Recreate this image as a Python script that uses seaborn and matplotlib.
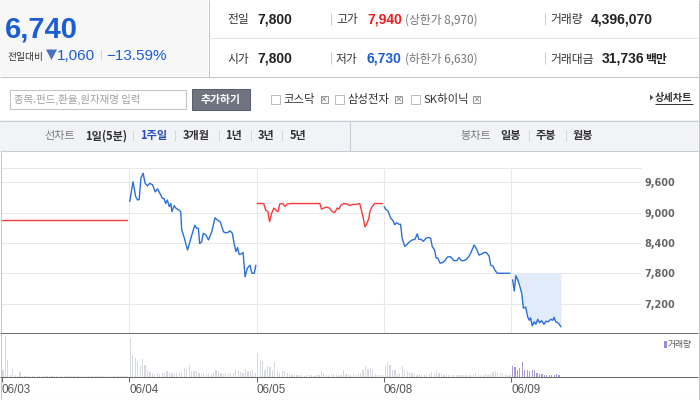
import numpy as np
import pandas as pd
import matplotlib
matplotlib.use("Agg")
import matplotlib.pyplot as plt
from matplotlib.patches import Rectangle, Polygon
from matplotlib.lines import Line2D
import seaborn as sns

# ---------------- data ----------------
day_labels = ["06/03", "06/04", "06/05", "06/08", "06/09"]
session_minutes = 390          # 09:00 - 15:30
prev_close = 7800              # previous close for 06/09
ytick_values = [7200, 7800, 8400, 9000, 9600]

d1_min = [1, 64, 128, 192, 256, 320, 383]
d1_price = [8860, 8860, 8860, 8860, 8860, 8860, 8860]

d2_min = [2, 12, 20, 26, 31, 36, 43, 49, 56, 63, 72, 80, 87, 92, 102, 107, 112, 117, 123, 128,
          131, 138, 143, 153, 158, 161, 168, 179, 189, 201, 207, 212, 216, 222, 227, 235, 243, 253,
          263, 271, 279, 289, 296, 303, 309, 316, 322, 327, 332, 337, 345, 349, 355, 362, 370, 376, 383, 388]
d2_price = [9220, 9610, 9320, 9250, 9260, 9680, 9780, 9580, 9530, 9580, 9550, 9410, 9470, 9410, 9280, 9280, 9180, 9250, 9120, 9180,
            9020, 9140, 9090, 9050, 9020, 8660, 8520, 8260, 8490, 8750, 8690, 8690, 8390, 8420, 8590, 8560, 8460, 8620,
            8900, 8850, 8820, 8620, 8600, 8610, 8640, 8590, 8370, 8230, 8310, 8170, 8190, 8210, 7730, 7900, 7960, 7800, 7800, 7960]

d3_min = [2, 22, 28, 35, 40, 46, 53, 61, 66, 71, 81, 87, 94, 104, 194, 199, 206, 214, 223, 232, 239, 247, 252,
          259, 267, 278, 285, 293, 303, 316, 321, 327, 332, 337, 344, 347, 354, 362, 385]
d3_price = [9180, 9180, 9050, 9020, 8820, 8980, 9090, 9040, 9020, 9170, 9180, 9120, 9170, 9180, 9180, 9070, 9090, 9110,
            9090, 9020, 9000, 9090, 9070, 9150, 9180, 9170, 9140, 9160, 9160, 9180, 9050, 8890, 8720, 8770, 8890, 9020,
            9120, 9180, 9180]

d4_min = [1, 5, 12, 21, 28, 33, 39, 46, 51, 56, 64, 72, 80, 87, 95, 102, 107, 114, 121, 128, 138, 143, 148, 155, 160,
          165, 172, 179, 186, 194, 204, 214, 223, 230, 237, 245, 253, 260, 268, 276, 283, 291, 299, 306, 314, 322, 327,
          334, 340, 347, 386]
d4_price = [9120, 9070, 9040, 8890, 8840, 8760, 8800, 8770, 8770, 8490, 8330, 8380, 8430, 8460, 8470, 8580, 8470, 8470,
            8430, 8490, 8510, 8490, 8330, 8260, 8100, 8100, 8000, 8010, 8040, 8120, 8130, 8050, 8050, 8110, 8050, 8050,
            8080, 8130, 8230, 8360, 8290, 8160, 8180, 8210, 8210, 8140, 7960, 7940, 7860, 7800, 7800]

d5_min = [4, 9, 14, 20, 27, 32, 37, 44, 50, 55, 59, 64, 70, 75, 81, 86, 93, 100, 106, 113, 121, 127, 131, 136, 142, 147, 152]
d5_price = [7670, 7450, 7750, 7670, 7520, 7400, 7110, 7130, 6940, 6870, 6920, 6760, 6840, 6790, 6890, 6820, 6860, 6790,
            6850, 6840, 6890, 6870, 6930, 6840, 6820, 6790, 6740]

vol_bins_per_day = 52
d1_vol = [68, 400, 166, 15, 78, 10, 8, 40, 8, 6, 5, 5, 5, 5, 4, 4, 4, 4, 4, 4, 3, 3, 3, 3, 3, 3,
          3, 3, 3, 3, 3, 3, 3, 3, 3, 3, 3, 3, 3, 3, 3, 3, 3, 3, 3, 3, 3, 3, 3, 3, 3, 3]
d2_vol = [378, 215, 183, 147, 98, 173, 117, 68, 40, 30, 25, 30, 25, 35, 30, 50, 30, 35, 25, 30, 35, 40, 85, 78, 117, 50,
          58, 58, 30, 25, 30, 25, 30, 25, 40, 68, 55, 30, 25, 30, 25, 30, 35, 60, 50, 40, 30, 78, 50, 58, 68, 30]
d3_vol = [230, 166, 150, 60, 98, 88, 68, 140, 50, 35, 58, 55, 30, 20, 15, 12, 12, 10, 10, 8, 10, 12, 10, 8, 10, 12,
          50, 30, 15, 12, 15, 25, 15, 12, 15, 68, 20, 25, 15, 12, 15, 20, 30, 65, 98, 75, 85, 68, 20, 15, 15, 12]
d4_vol = [100, 140, 117, 65, 60, 25, 30, 107, 65, 55, 40, 35, 20, 18, 20, 15, 18, 15, 20, 45, 30, 60, 35, 20, 15, 18,
          15, 15, 12, 15, 12, 15, 12, 12, 15, 12, 15, 30, 15, 12, 15, 25, 15, 20, 40, 55, 45, 35, 35, 25, 12, 10]
d5_vol = [98, 88, 65, 85, 140, 65, 60, 50, 65, 60, 35, 25, 20, 18, 18, 18, 15, 15, 25, 15]

# ---------------- style ----------------
sns.set_theme(style="white")
LAT = ["Liberation Sans", "DejaVu Sans"]
KR = ["Noto Sans CJK KR", "DejaVu Sans"]
plt.rcParams["font.family"] = ["Liberation Sans", "Noto Sans CJK KR", "DejaVu Sans"]

BLUE = "#2b6fd8"
RED = "#f83a3a"
BLUE_TXT = "#1a5dd6"
RED_TXT = "#f21c1c"
GRID = "#e8e8e8"
BORDER = "#c6c6c6"

W, H = 700, 400
fig = plt.figure(figsize=(7, 4), dpi=100)
fig.patch.set_facecolor("white")


def fx(x):
    return x / W


def fy(y):
    return 1 - y / H


def hline(y, x0, x1, color, lw=0.75, z=2):
    fig.add_artist(Line2D([fx(x0), fx(x1)], [fy(y), fy(y)], transform=fig.transFigure,
                          color=color, lw=lw, zorder=z, solid_capstyle="butt"))


def vline(x, y0, y1, color, lw=0.75, z=2):
    fig.add_artist(Line2D([fx(x), fx(x)], [fy(y0), fy(y1)], transform=fig.transFigure,
                          color=color, lw=lw, zorder=z, solid_capstyle="butt"))


def rect(x0, y0, x1, y1, fc, ec="none", lw=0.75, z=1):
    fig.add_artist(Rectangle((fx(x0), fy(y1)), (x1 - x0) / W, (y1 - y0) / H, transform=fig.transFigure,
                             facecolor=fc, edgecolor=ec, lw=lw, zorder=z))


def T(x, y, s, size, color="#333333", weight="normal", family=None, ha="left", va="baseline"):
    fig.text(fx(x), fy(y), s, fontsize=size, color=color, fontweight=weight,
             family=family if family else KR, ha=ha, va=va, zorder=5)


def tri(pts, color):
    fig.add_artist(Polygon([(fx(a), fy(b)) for a, b in pts], closed=True, transform=fig.transFigure,
                           facecolor=color, edgecolor="none", zorder=4))


# ---------------- header ----------------
rect(0, 0, 208, 76, "#f7f7f8")
hline(76.5, 0, 699, BORDER)
vline(208.5, 0, 76.5, BORDER)
hline(37.5, 209, 698, "#e6e6e6")
vline(698.5, 0, 400, BORDER)

T(5, 37.7, "6,740", 21, BLUE_TXT, "bold", LAT)
T(7, 59.8, "전일대비", 7, "#333333")
tri([(46, 49.5), (57, 49.5), (51.5, 60)], "#4672c4")
T(57, 60.5, "1,060", 11, BLUE_TXT, "normal", LAT)
vline(100.5, 50, 60, "#d4d4d4")
T(106.5, 60.5, "\u221213.59%", 11, BLUE_TXT, "normal", LAT)

for ry, lab1, v1, lab2, v2, c2, lim, lab3 in [
        (23.5, "전일", "7,800", "고가", "7,940", RED_TXT, "(상한가 8,970)", "거래량"),
        (62.5, "시가", "7,800", "저가", "6,730", BLUE_TXT, "(하한가 6,630)", "거래대금")]:
    T(227, ry, lab1, 8.5, "#333333")
    T(257, ry, v1, 10, "#222222", "bold", LAT)
    vline(330.5, ry - 11, ry + 1, "#cccccc")
    T(336, ry, lab2, 8.5, "#333333")
    T(367, ry, v2, 10, c2, "bold", LAT)
    T(405, ry, lim, 8.5, "#777777")
    vline(544.5, ry - 11, ry + 1, "#cccccc")
    T(550, ry, lab3, 8.5, "#333333")
T(591, 23.5, "4,396,070", 10, "#222222", "bold", LAT)
T(602, 62.5, "31,736", 10, "#222222", "bold", LAT)
T(645, 62.5, "백만", 8.5, "#222222", "bold")

# ---------------- search row ----------------
rect(9.5, 89.5, 186.5, 108.5, "white", "#c4c4c4")
T(14, 102.5, "종목.펀드,환율,원자재명 입력", 7.5, "#a0a0a0")
rect(191.5, 89.5, 249.5, 109.5, "#6f7480", "#5b5f69")
T(220.5, 103.5, "추가하기", 7.8, "white", "bold", ha="center")
for cbx, lab, xbx in [(270, "코스닥", 320), (334, "삼성전자", 395), (410, "SK하이닉", 473)]:
    rect(cbx + 0.5, 94.5, cbx + 9.5, 103.5, "white", "#bdbdbd")
    T(cbx + 13.5, 102.5, lab, 8.2, "#333333")
    rect(xbx + 0.5, 95.5, xbx + 7.5, 102.5, "white", "#9a9a9a")
    fig.add_artist(Line2D([fx(xbx + 2), fx(xbx + 6)], [fy(97), fy(101)], transform=fig.transFigure,
                          color="#8a8a8a", lw=0.6, zorder=4))
    fig.add_artist(Line2D([fx(xbx + 2), fx(xbx + 6)], [fy(101), fy(97)], transform=fig.transFigure,
                          color="#8a8a8a", lw=0.6, zorder=4))
tri([(650, 94.5), (653.5, 97.5), (650, 100.5)], "#555555")
T(655, 101.5, "상세차트", 7.3, "#333333", "bold")
hline(104, 655, 693, "#333333", lw=0.7)

# ---------------- tab bar ----------------
rect(0, 120.5, 699, 151.5, "#f1f3f6")
hline(120.5, 0, 699, "#c9ccd2")
hline(151.5, 0, 699, "#c9ccd2")
vline(350.5, 121, 151, "#c9ccd2")
TY = 139.5
T(44.5, TY, "선차트", 8, "#7a7a7a")
tabs = [(85, "1일(5분)", "#333333"), (140.5, "1주일", "#2b4db8"), (183, "3개월", "#333333"),
        (225, "1년", "#333333"), (257.5, "3년", "#333333"), (290, "5년", "#333333")]
for x, s, c in tabs:
    T(x, TY, s, 8, c, "bold")
for x in [132.5, 174.5, 218.5, 250.5, 281.5]:
    vline(x, 130, 141, "#d3d6dc")
T(460.5, TY, "봉차트", 8, "#7a7a7a")
for x, s in [(500.5, "일봉"), (536, "주봉"), (573, "월봉")]:
    T(x, TY, s, 8, "#333333", "bold")
for x in [528.5, 565.5]:
    vline(x, 130, 141, "#d3d6dc")

# chart frame
vline(0.5, 152, 400, "#c8c8c8")
hline(399.5, 0, 699, "#c8c8c8")

# ---------------- price panel ----------------
PX0 = 1.7           # pixel of first day start
PPD = 127.4         # pixels per day
AX_L, AX_R = 1, 641
xlim = ((AX_L - PX0) / PPD, (AX_R - PX0) / PPD)

ax = fig.add_axes([fx(AX_L), fy(332.5), (AX_R - AX_L) / W, (332.5 - 168) / H])
day_mins = [d1_min, d2_min, d3_min, d4_min, d5_min]
day_prices = [d1_price, d2_price, d3_price, d4_price, d5_price]
rows = []
for d, (mins, prices) in enumerate(zip(day_mins, day_prices)):
    for m, p in zip(mins, prices):
        rows.append({"t": d + m / session_minutes, "price": p, "day": day_labels[d]})
df = pd.DataFrame(rows)
palette = {day_labels[0]: RED, day_labels[1]: BLUE, day_labels[2]: RED,
           day_labels[3]: BLUE, day_labels[4]: BLUE}

t5 = 4 + np.array(d5_min) / session_minutes
ax.fill_between(t5, d5_price, prev_close, color="#e1ebfa", lw=0, zorder=1)
sns.lineplot(data=df, x="t", y="price", hue="day", palette=palette, estimator=None, sort=False,
             legend=False, ax=ax, linewidth=1.0, zorder=3)

ax.set_xlim(*xlim)
ax.set_ylim(6628, 9883)
ax.set_xlabel("")
ax.set_ylabel("")
ax.set_xticks([])
ax.set_yticks(ytick_values)
ax.set_yticklabels([f"{v:,}" for v in ytick_values])
ax.yaxis.tick_right()
ax.tick_params(axis="y", right=True, left=False, length=0, pad=2.2, labelsize=7, labelcolor="#666666")
for lab in ax.get_yticklabels():
    lab.set_fontweight("bold")
    lab.set_family(["DejaVu Sans"])
ax.grid(axis="y", color=GRID, linewidth=0.75)
ax.set_axisbelow(True)
for d in range(1, len(day_labels)):
    ax.axvline(d, color=GRID, lw=0.75, zorder=0)
for sp in ["left", "right", "bottom"]:
    ax.spines[sp].set_visible(False)
ax.spines["top"].set_color(GRID)
ax.spines["top"].set_linewidth(0.75)
ax.patch.set_alpha(0)

hline(332.5, 0, 698, "#707070")

# ---------------- volume panel ----------------
axv = fig.add_axes([fx(AX_L), fy(376.5), (AX_R - AX_L) / W, (376.5 - 332.5) / H])
bar_w = 1.2 / PPD
for d, vols in enumerate([d1_vol, d2_vol, d3_vol, d4_vol, d5_vol]):
    tv = d + (np.arange(len(vols)) + 0.5) / vol_bins_per_day
    axv.bar(tv, vols, width=bar_w, color="#a999d8" if d == 4 else "#d6d9df", lw=0, zorder=2)
axv.set_xlim(*xlim)
axv.set_ylim(0, 430)
axv.set_yticks([])
axv.set_xticks(range(len(day_labels)))
axv.set_xticklabels(day_labels)
axv.tick_params(axis="x", bottom=True, length=3.6, width=0.75, color="#666666", pad=1.8,
                labelsize=8.4, labelcolor="#555555", direction="out")
for lab in axv.get_xticklabels():
    lab.set_ha("left")
    lab.set_family(LAT)
for sp in axv.spines.values():
    sp.set_visible(False)
axv.patch.set_alpha(0)
hline(376.5, 0, 698, "#6a6a6a")

rect(664, 341, 666.5, 348, "#9b8bd4", z=3)
T(667.5, 347.5, "거래량", 6.3, "#555555")

fig.savefig("out.png", dpi=100, facecolor="white")
